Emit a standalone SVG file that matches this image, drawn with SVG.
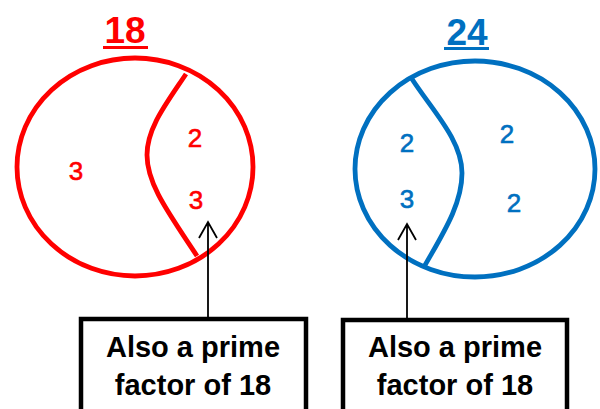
<svg xmlns="http://www.w3.org/2000/svg" width="600" height="409" viewBox="0 0 600 409">
<defs>
<style>
.title{font-family:"Liberation Sans",Arial,sans-serif;font-weight:bold;font-size:37px;text-anchor:middle}
.num{font-family:"Liberation Sans",Arial,sans-serif;font-size:26px;text-anchor:middle;stroke-width:0.6px}
.lbl{font-family:"Liberation Sans",Arial,sans-serif;font-weight:bold;font-size:29px;text-anchor:middle;fill:#000}
.red{fill:#FF0000}
.blue{fill:#0070C0}
.num.red{stroke:#FF0000}
.num.blue{stroke:#0070C0}
.box{fill:#fff;stroke:#000;stroke-width:4.5}
.conn{fill:none;stroke:#000;stroke-width:1.8}
</style>
</defs>
<rect width="600" height="409" fill="#fff"/>
<g id="venn18">
<text class="title red" x="125" y="43">18</text>
<rect x="103" y="46" width="45" height="3" fill="#FF0000"/>
<ellipse cx="135" cy="167" rx="118" ry="109" fill="none" stroke="#FF0000" stroke-width="4.8"/>
<path d="M186,74 C166,104 147,128 147,155 C147,184 168,212 197,256" fill="none" stroke="#FF0000" stroke-width="4.8"/>
<text class="num red" x="76" y="180">3</text>
<text class="num red" x="195" y="147">2</text>
<text class="num red" x="196" y="209">3</text>
</g>
<g id="venn24">
<text class="title blue" x="467" y="45">24</text>
<rect x="444" y="47" width="45" height="3" fill="#0070C0"/>
<ellipse cx="475" cy="169" rx="120" ry="108" fill="none" stroke="#0070C0" stroke-width="4.8"/>
<path d="M412,79 C432,110 462,140 462,173 C462,205 442,235 424,267" fill="none" stroke="#0070C0" stroke-width="4.8"/>
<text class="num blue" x="407" y="152">2</text>
<text class="num blue" x="407" y="208">3</text>
<text class="num blue" x="507" y="143">2</text>
<text class="num blue" x="514" y="212">2</text>
</g>
<g id="connectors">
<path class="conn" d="M208,319 V222 M199,238 L208,222 L217,238"/>
<path class="conn" d="M407,320 V224 M398,240 L407,224 L416,240"/>
</g>
<g id="box1">
<rect class="box" x="81" y="319" width="225" height="100"/>
<text class="lbl" x="193" y="357">Also a prime</text>
<text class="lbl" x="193" y="395">factor of 18</text>
</g>
<g id="box2">
<rect class="box" x="343" y="320" width="224" height="100"/>
<text class="lbl" x="455" y="357">Also a prime</text>
<text class="lbl" x="455" y="395">factor of 18</text>
</g>
</svg>
